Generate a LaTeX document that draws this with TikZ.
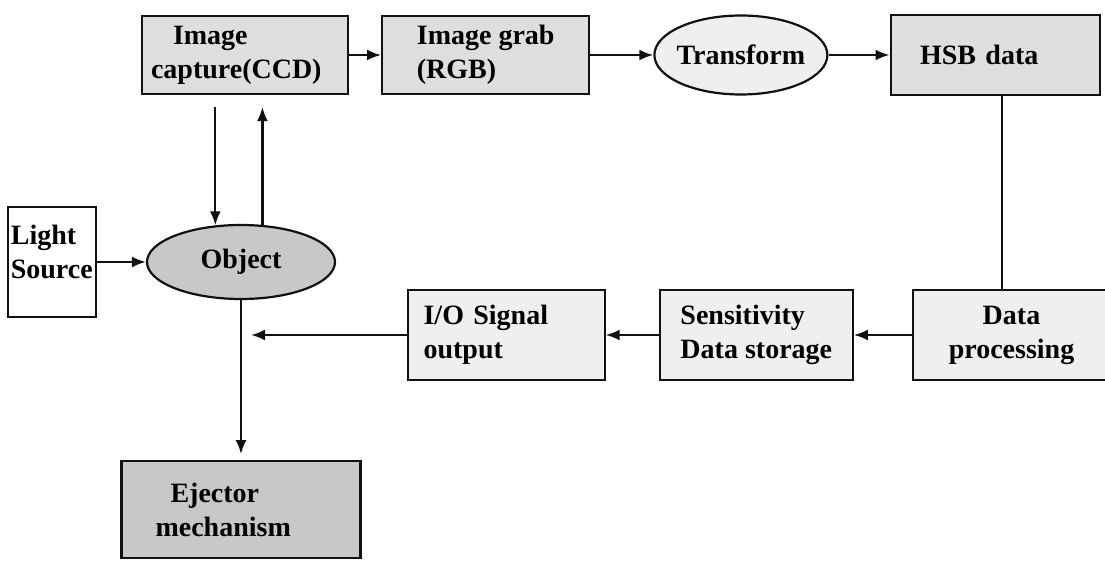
\documentclass[tikz,border=0pt]{standalone}
\usepackage{fontspec}
\setmainfont{Liberation Serif}
\usepackage{xcolor}
\usetikzlibrary{arrows.meta,positioning,shapes.geometric}
\definecolor{ink}{HTML}{111111}
\definecolor{palegray}{HTML}{EFEFEF}
\definecolor{midgray}{HTML}{DEDEDE}
\definecolor{shadegray}{HTML}{C8C8C8}

\begin{document}
\begin{tikzpicture}[x=1pt,y=1pt,node distance=32pt and 32pt,>={Latex[length=14pt,width=11pt]}]
\tikzset{box/.style={draw=ink,line width=2.2pt,fill=midgray,minimum height=78pt,align=left,inner sep=3pt,font=\bfseries\fontsize{28}{34}\selectfont}}
\tikzset{oval/.style={box,ellipse,align=center}}
\tikzset{link/.style={->,line width=2.2pt,draw=ink}}
\useasboundingbox (0,0) rectangle (1105,-561);
\node[box,minimum width=206pt,text width=188pt] (cap) at (245,-55) {\hspace{22pt}Image\\capture(CCD)};
\node[box,minimum width=207pt,right=32pt of cap] (grab) {Image grab\\(RGB)};
\node[oval,fill=palegray,inner xsep=-4pt,minimum width=173pt,minimum height=79pt,right=63pt of grab] (trans) {Transform};
\node[box,minimum width=209pt,minimum height=80pt,text width=150pt,right=61pt of trans] (hsb) {HSB data};
\node[box,fill=palegray,minimum width=197pt,minimum height=90pt,align=center] (dat) at (1011.5,-335) {Data\\processing};
\node[box,fill=palegray,minimum width=193pt,minimum height=90pt,left=58pt of dat] (sens) {Sensitivity\\Data storage};
\node[box,fill=palegray,minimum width=197pt,minimum height=90pt,text width=165pt,left=53pt of sens] (io) {I/O Signal\\output};
\node[oval,fill=shadegray,minimum width=188pt,minimum height=74pt] (obj) at (241,-262) {Object};
\node[box,fill=white,minimum width=88pt,minimum height=110pt,inner xsep=1pt,left=49pt of obj] (light) {Light\\Source\\[-14pt]\mbox{}};
\node[box,fill=shadegray,minimum width=239pt,minimum height=97pt,text width=171pt,below=160pt of obj] (ej) {\hspace{15pt}Ejector\\mechanism};
\coordinate (drop) at ([xshift=7pt]hsb.south);
\draw[link] (cap) -- (grab);
\draw[link] (grab) -- (trans);
\draw[link] (trans) -- (hsb);
\draw[line width=2.2pt,draw=ink] (drop) -- (drop |- dat.north);
\draw[link] (dat) -- (sens);
\draw[link] (sens) -- (io);
\draw[link,shorten >=10pt] (io.west) -- (io.west -| obj.south);
\draw[link] (light) -- (obj);
\draw[link,shorten >=6pt] (obj) -- (ej);
\draw[link,shorten <=12pt] (obj.125 |- cap.south) -- (obj.125);
\draw[link,shorten >=12pt] (obj.60) -- (obj.60 |- cap.south);
\end{tikzpicture}
\end{document}
